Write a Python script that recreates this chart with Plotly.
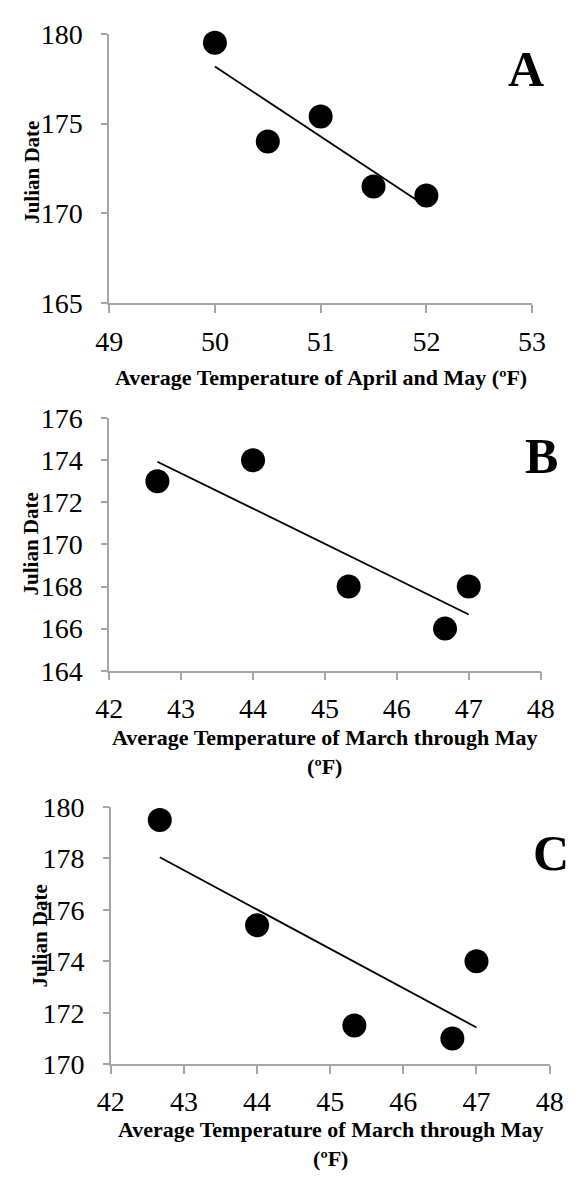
import numpy as np
import plotly.graph_objects as go

# ---- data ----
a_temp = [50.0, 50.5, 51.0, 51.5, 52.0]
a_date = [179.5, 174.0, 175.4, 171.5, 171.0]

b_temp = [42.67, 44.0, 45.33, 46.67, 47.0]
b_date = [173.0, 174.0, 168.0, 166.0, 168.0]

c_temp = [42.67, 44.0, 45.33, 46.67, 47.0]
c_date = [179.5, 175.4, 171.5, 171.0, 174.0]

panel_labels = ["A", "B", "C"]
x_titles = ["Average Temperature of April and May (ºF)",
            "Average Temperature of March through May<br>(ºF)",
            "Average Temperature of March through May<br>(ºF)"]
y_title = "Julian Date"

a_xrange, a_yrange, a_dtick = [49, 53], [165, 180], 5
b_xrange, b_yrange, b_dtick = [42, 48], [164, 176], 2
c_xrange, c_yrange, c_dtick = [42, 48], [170, 180], 2

W, H = 582, 1186
SERIF = "Liberation Serif, Times New Roman, serif"
TICKFONT = dict(family=SERIF, size=28, color="black")
TITLEFONT = dict(family=SERIF, size=22, color="black")
YTFONT = dict(family=SERIF, size=21, color="black")
AXCOL = "#a6a6a6"

# pixel boxes of the three plot areas: (left, right, top, bottom)
boxes = [(100, 544.3, 19.3, 296.0),
         (100, 553.3, 414.0, 673.3),
         (101.7, 562.7, 813.3, 1077.3)]

fig = go.Figure()
panels = [(a_temp, a_date, a_xrange, a_yrange, a_dtick),
          (b_temp, b_date, b_xrange, b_yrange, b_dtick),
          (c_temp, c_date, c_xrange, c_yrange, c_dtick)]

layout = {}
for i, (xs, ys, xr, yr, dt) in enumerate(panels):
    n = "" if i == 0 else str(i + 1)
    xa, ya = "x" + n, "y" + n
    fig.add_trace(go.Scatter(x=xs, y=ys, mode="markers", xaxis=xa, yaxis=ya,
                             marker=dict(size=24, color="black"),
                             showlegend=False, cliponaxis=False))
    k, b = np.polyfit(xs, ys, 1)
    lx = [min(xs), max(xs)]
    fig.add_trace(go.Scatter(x=lx, y=[k * v + b for v in lx], mode="lines",
                             xaxis=xa, yaxis=ya, line=dict(color="black", width=1.8),
                             showlegend=False, cliponaxis=False))
    l, r, t, bt = boxes[i]
    layout["xaxis" + n] = dict(domain=[l / W, r / W], range=xr, dtick=1, tick0=xr[0],
                               anchor=ya, showgrid=False, zeroline=False,
                               showline=True, linecolor=AXCOL, linewidth=1.5,
                               ticks="outside", ticklen=8, tickcolor=AXCOL, tickwidth=1.5,
                               tickfont=TICKFONT, ticklabelstandoff=4)
    layout["yaxis" + n] = dict(domain=[1 - bt / H, 1 - t / H], range=yr, dtick=dt, tick0=yr[0],
                               anchor=xa, showgrid=False, zeroline=False,
                               showline=True, linecolor=AXCOL, linewidth=1.5,
                               ticks="outside", ticklen=6, tickcolor=AXCOL, tickwidth=1.5,
                               tickfont=TICKFONT, ticklabelstandoff=13)

fig.update_layout(**layout)

ann = []
letter_pos = [(537.5, 55), (553.7, 453), (564, 861)]
xt_pos = [(322, 372), (326, 757), (332, 1159)]
yt_pos = [(19, 162), (17.5, 543), (27.5, 946)]
for i in range(3):
    lx, ly = letter_pos[i]
    ann.append(dict(text="<b>%s</b>" % panel_labels[i], x=lx / W, y=1 - ly / H,
                    xref="paper", yref="paper", showarrow=False,
                    xanchor="center", yanchor="middle",
                    font=dict(family=SERIF, size=50, color="black")))
    tx, ty = xt_pos[i]
    ann.append(dict(text="<b>%s</b>" % x_titles[i], x=tx / W, y=1 - ty / H,
                    xref="paper", yref="paper", showarrow=False,
                    xanchor="center", yanchor="middle", font=TITLEFONT))
    yx, yy = yt_pos[i]
    ann.append(dict(text="<b>%s</b>" % y_title, x=yx / W, y=1 - yy / H,
                    xref="paper", yref="paper", showarrow=False, textangle=-90,
                    xanchor="center", yanchor="middle", font=YTFONT))

fig.update_layout(annotations=ann, width=W, height=H,
                  margin=dict(l=0, r=0, t=0, b=0),
                  paper_bgcolor="white", plot_bgcolor="white")

fig.write_html("out.html", post_script="document.body.style.margin='0';")
